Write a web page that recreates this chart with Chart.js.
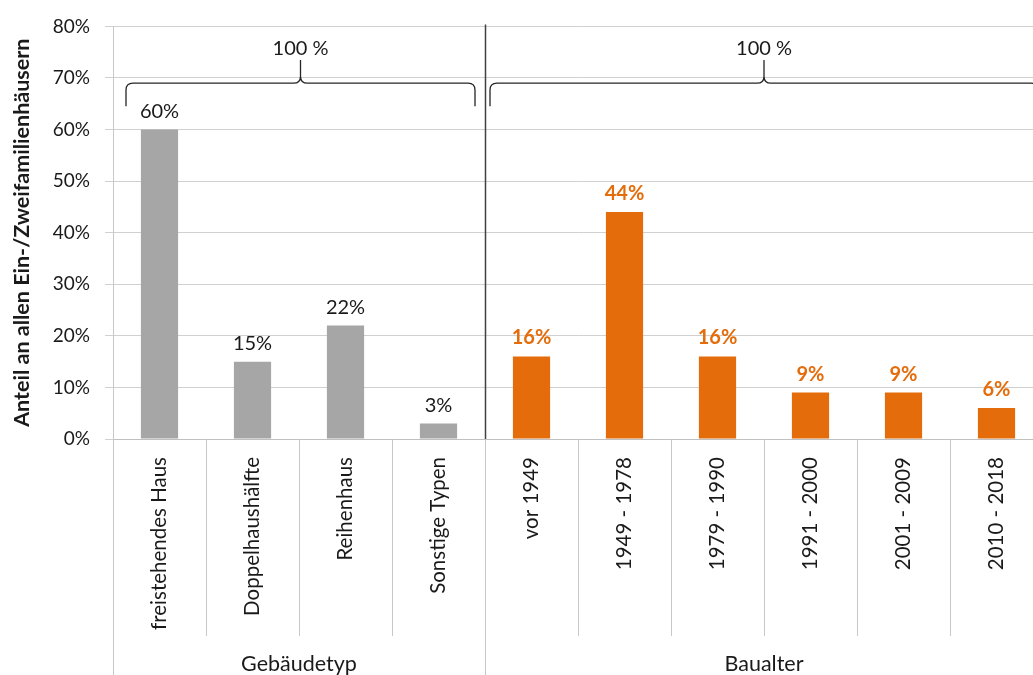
<!DOCTYPE html>
<html lang="de">
<head>
<meta charset="utf-8">
<title>Ein- und Zweifamilienhäuser nach Gebäudetyp und Baualter</title>
<script src="https://cdn.jsdelivr.net/npm/chart.js@4.4.1/dist/chart.umd.min.js"></script>
<style>
  html, body { margin: 0; padding: 0; background: #fff; overflow: hidden; }
  #wrap { width: 1045px; height: 675px; }
</style>
</head>
<body>
<div id="wrap"><canvas id="grafico" width="1045" height="675"></canvas></div>
<script>
// Kategorien, Anteile und Gruppen
const kategorien = ['freistehendes Haus', 'Doppelhaushälfte', 'Reihenhaus', 'Sonstige Typen',
  'vor 1949', '1949 - 1978', '1979 - 1990', '1991 - 2000', '2001 - 2009', '2010 - 2018'];
const anteile = [60, 15, 22, 3, 16, 44, 16, 9, 9, 6];
const gruppen = ['Gebäudetyp', 'Baualter'];
const gruppenGroesse = [4, 6];
const gruppenSumme = ['100 %', '100 %'];
const yTicks = [0, 10, 20, 30, 40, 50, 60, 70, 80];

const FONT = 'Lato, "Liberation Sans", sans-serif';
const TEXT = '#1a1a1a';
const GRAU = '#a6a6a6';
const ORANGE = '#e46c0a';

function gruppeVon(i) {
  let n = 0;
  for (let g = 0; g < gruppenGroesse.length; g++) {
    n += gruppenGroesse[g];
    if (i < n) return g;
  }
  return gruppenGroesse.length - 1;
}

const farben = kategorien.map((_, i) => gruppeVon(i) === 0 ? GRAU : ORANGE);

// geschweifte Klammer über einer Gruppe
function klammer(ctx, x0, x1, yLine, yEnd, yTip, r) {
  const xm = (x0 + x1) / 2;
  ctx.beginPath();
  ctx.moveTo(x0, yEnd);
  ctx.lineTo(x0, yLine + r);
  ctx.quadraticCurveTo(x0, yLine, x0 + r, yLine);
  ctx.lineTo(xm - r, yLine);
  ctx.quadraticCurveTo(xm, yLine, xm, yLine - r);
  ctx.lineTo(xm, yTip);
  ctx.moveTo(xm, yLine - r);
  ctx.quadraticCurveTo(xm, yLine, xm + r, yLine);
  ctx.lineTo(x1 - r, yLine);
  ctx.quadraticCurveTo(x1, yLine, x1, yLine + r);
  ctx.lineTo(x1, yEnd);
  ctx.stroke();
  return xm;
}

const extras = {
  id: 'extras',
  afterDraw(chart) {
    const { ctx, scales: { x, y } } = chart;
    const meta = chart.getDatasetMeta(0);
    const half = (x.getPixelForValue(1) - x.getPixelForValue(0)) / 2;
    const grenze = b => b < kategorien.length ? x.getPixelForValue(b) - half : x.getPixelForValue(b - 1) + half;

    ctx.save();

    // Werte über den Säulen
    ctx.textAlign = 'center';
    ctx.textBaseline = 'alphabetic';
    meta.data.forEach((bar, i) => {
      const orange = gruppeVon(i) === 1;
      ctx.font = (orange ? 'bold ' : '') + '20px ' + FONT;
      ctx.fillStyle = orange ? ORANGE : TEXT;
      ctx.fillText(Math.round(anteile[i]) + '%', bar.x, bar.y - 12);
    });

    // Trennlinien unter der Achse
    const gruppenGrenzen = [0];
    gruppenGroesse.forEach(n => gruppenGrenzen.push(gruppenGrenzen[gruppenGrenzen.length - 1] + n));
    ctx.strokeStyle = '#c8c8c8';
    ctx.lineWidth = 1;
    for (let b = 0; b <= kategorien.length; b++) {
      const px = Math.round(grenze(b)) + 0.5;
      const unten = gruppenGrenzen.includes(b) ? chart.height : y.bottom + 197;
      ctx.beginPath();
      ctx.moveTo(px, y.bottom);
      ctx.lineTo(px, unten);
      ctx.stroke();
    }

    // Gruppennamen
    ctx.font = '21.5px ' + FONT;
    ctx.fillStyle = TEXT;
    ctx.textBaseline = 'middle';
    gruppen.forEach((name, g) => {
      const cx = (grenze(gruppenGrenzen[g]) + grenze(gruppenGrenzen[g + 1])) / 2;
      ctx.fillText(name, cx, chart.height - 11);
    });

    // senkrechte Linie zwischen den Gruppen
    const trenn = Math.round(grenze(gruppenGrenzen[1])) + 0.5;
    ctx.strokeStyle = '#404040';
    ctx.lineWidth = 1.5;
    ctx.beginPath();
    ctx.moveTo(trenn, y.getPixelForValue(80) - 2);
    ctx.lineTo(trenn, y.bottom);
    ctx.stroke();

    // Klammern mit Summe
    const einzug = [[13, 10], [5, 5]];
    ctx.font = '20px ' + FONT;
    ctx.strokeStyle = '#262626';
    ctx.lineWidth = 1.3;
    gruppen.forEach((_, g) => {
      const x0 = grenze(gruppenGrenzen[g]) + einzug[g][0];
      const x1 = grenze(gruppenGrenzen[g + 1]) - einzug[g][1];
      const yLine = y.getPixelForValue(69);
      const xm = klammer(ctx, x0, x1, yLine, y.getPixelForValue(64.5), y.getPixelForValue(73.5), 7);
      ctx.fillText(gruppenSumme[g], xm, y.getPixelForValue(73.5) - 11);
    });

    ctx.restore();
  }
};

new Chart(document.getElementById('grafico'), {
  type: 'bar',
  data: {
    labels: kategorien,
    datasets: [{
      data: anteile,
      backgroundColor: farben,
      barPercentage: 0.4,
      categoryPercentage: 1.0
    }]
  },
  options: {
    responsive: false,
    animation: false,
    layout: { padding: { top: 24, right: 2, bottom: 0, left: 0 } },
    plugins: { legend: { display: false }, tooltip: { enabled: false } },
    scales: {
      x: {
        afterFit: s => { s.height = 236; },
        grid: { display: false, drawTicks: false },
        border: { color: '#c0c0c0' },
        ticks: {
          autoSkip: false, minRotation: 90, maxRotation: 90, padding: 18,
          color: TEXT, font: { family: FONT, size: 20.5 }
        }
      },
      y: {
        min: 0,
        max: 80,
        afterBuildTicks: s => { s.ticks = yTicks.map(v => ({ value: v })); },
        afterFit: s => { s.width = 113; },
        ticks: { callback: v => v + '%', padding: 15, color: TEXT, font: { family: FONT, size: 19 } },
        grid: { color: '#d0d0d0', tickColor: '#d0d0d0', tickLength: 8 },
        border: { color: '#c8c8c8' },
        title: {
          display: true,
          text: 'Anteil an allen Ein-/Zweifamilienhäusern',
          color: TEXT,
          font: { family: FONT, size: 21.5, weight: 'bold' },
          padding: { top: 9, bottom: 0 }
        }
      }
    }
  },
  plugins: [extras]
});
</script>
</body>
</html>
